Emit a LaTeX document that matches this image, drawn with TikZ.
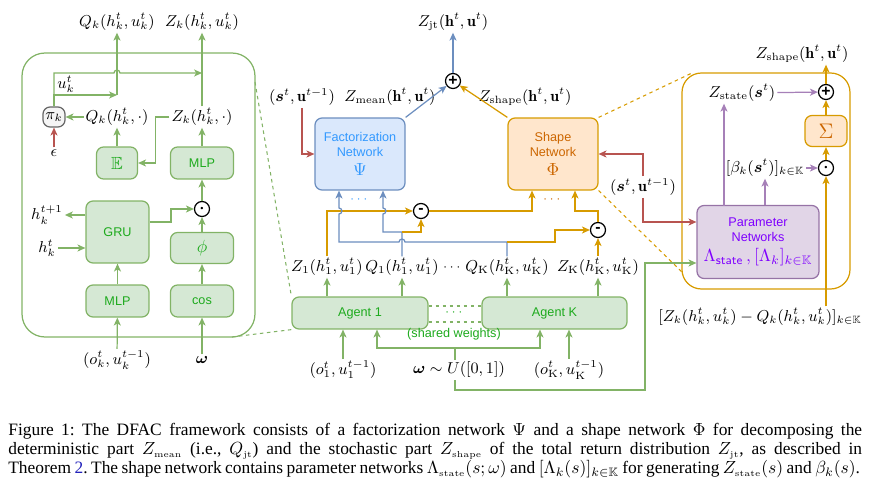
\documentclass[tikz,border=0pt]{standalone}
\usepackage{amsfonts, amssymb, amsmath}
\usepackage{fontspec}
\usepackage{xcolor}
\usepackage{tikz}
\usetikzlibrary{
  arrows.meta,
  calc
}
\newfontfamily\helv{Liberation Sans}
\newfontfamily\capfont{Liberation Serif}
\newcommand{\capsub}[1]{{\scriptscriptstyle\mathrm{#1}}}
\definecolor{greenline}{HTML}{82B366}
\definecolor{greenfill}{HTML}{D5E8D4}
\definecolor{greentext}{HTML}{1DAA1D}
\definecolor{blueline}{HTML}{6C8EBF}
\definecolor{bluefill}{HTML}{DAE8FC}
\definecolor{bluetext}{HTML}{3399FF}
\definecolor{orangeline}{HTML}{D79B00}
\definecolor{orangefill}{HTML}{FFE6CC}
\definecolor{orangetext}{HTML}{CC6600}
\definecolor{redline}{HTML}{B85450}
\definecolor{purpleline}{HTML}{A680B8}
\definecolor{purpleborder}{HTML}{9673A6}
\definecolor{purplefill}{HTML}{E1D5E7}
\definecolor{purpletext}{HTML}{7F00FF}
\definecolor{grayline}{HTML}{666666}
\definecolor{grayfill}{HTML}{F5F5F5}
\definecolor{linkblue}{HTML}{2222BB}
\tikzset{
  wire/.style={
    ->,
    >={Stealth[length=4.5pt,width=4pt,inset=1.2pt]},
    line width=0.7pt},
  zoomline/.style={
    dash pattern=on 2pt off 2pt,
    line width=0.6pt},
  block/.style={
    draw,
    rounded corners=4pt,
    line width=0.7pt,
    align=center,
    inner sep=1pt,
    font=\helv\fontsize{7.2}{8.6}\selectfont},
  gblock/.style={block, draw=greenline, fill=greenfill, text=greentext},
  bblock/.style={block, draw=blueline, fill=bluefill, text=bluetext},
  oblock/.style={block, draw=orangeline, fill=orangefill, text=orangetext},
  pblock/.style={block, draw=purpleborder, fill=purplefill, text=purpletext},
  op/.style={
    draw,
    circle,
    line width=0.7pt,
    minimum size=0.3cm,
    inner sep=0pt,
    font=\helv\bfseries\fontsize{9}{9}\selectfont},
  lbl/.style={inner sep=1pt, font=\small},
  dots/.style={inner sep=1pt, font=\scriptsize},
  panel/.style={draw, line width=0.7pt, rounded corners=13pt}
}
\begin{document}
\begin{tikzpicture}[x=0.02cm, y=-0.02cm]
	\useasboundingbox (0,0) rectangle (880,500);
	\node [panel, draw=greenline, minimum width=4.66cm, minimum height=5.68cm] (lpanel) at (138.5,195) {};
	\node [lbl] (qout) at (117,22) {$Q_k(h_k^t, u_k^t)$};
	\node [lbl] (zout) at (202,22) {$Z_k(h_k^t, u_k^t)$};
	\node [block, draw=grayline, fill=grayfill, text=black, minimum width=0.44cm, minimum height=0.4cm, font=\small] (pik) at (54,117) {$\pi_k$};
	\node [lbl] (qpart) at (117,117) {$Q_k(h_k^t, \cdot)$};
	\node [lbl] (zpart) at (202,117) {$Z_k(h_k^t, \cdot)$};
	\node [lbl] (ulab) at (66,84) {$u_k^t$};
	\node [lbl] (eps) at (54,153) {$\epsilon$};
	\node [gblock, minimum width=0.82cm, minimum height=0.64cm, font=\normalsize] (expect) at (117,163) {$\mathbb{E}$};
	\node [gblock, minimum width=1.26cm, minimum height=0.64cm] (mlpq) at (202,163) {MLP};
	\node [op] (prodk) at (202,209) {$\boldsymbol{\cdot}$};
	\node [gblock, minimum width=1.26cm, minimum height=1.24cm] (gru) at (117.5,232) {GRU};
	\node [gblock, minimum width=1.26cm, minimum height=0.62cm, font=\normalsize] (phi) at (202,248) {$\phi$};
	\node [gblock, minimum width=1.26cm, minimum height=0.64cm] (mlpo) at (117.5,301) {MLP};
	\node [gblock, minimum width=1.26cm, minimum height=0.64cm] (cosine) at (202,301) {cos};
	\node [lbl] (hnext) at (47,215) {$h_k^{t+1}$};
	\node [lbl] (hnow) at (47,248) {$h_k^t$};
	\node [lbl] (obsk) at (117,360) {$(o_k^t, u_k^{t-1})$};
	\node [lbl] (omk) at (202,360) {$\boldsymbol{\omega}$};
	\coordinate (selq) at (117,95);
	\coordinate (selz) at (202,73);
	\draw [wire, greenline] (qpart) to (pik);
	\draw [wire, redline] (eps) to (pik);
	\draw [wire, greenline] (pik.north) |- (selq);
	\draw [wire, greenline] (pik.north) -- (54,73) -- (114,73) arc [start angle=180, end angle=0, radius=1.7pt] -- (selz);
	\draw [wire, greenline] (selq) to (qout);
	\draw [wire, greenline] (zpart) to (zout);
	\draw [wire, greenline] (zpart.west) -- ++(-14,0) |- (expect.east);
	\draw [wire, greenline] (expect) to (qpart);
	\draw [wire, greenline] (mlpq) to (zpart);
	\draw [wire, greenline] (prodk) to (mlpq);
	\draw [wire, greenline] ($(gru.east)+(0,-10)$) -- (171,222) |- (prodk);
	\draw [wire, greenline] (phi) to (prodk);
	\draw [wire, greenline] (cosine) to (phi);
	\draw [wire, greenline] (mlpo) to (gru);
	\draw [wire, greenline] (obsk) to (mlpo);
	\draw [wire, greenline] (omk) to (cosine);
	\draw [wire, greenline] (gru.west |- hnext) to (hnext);
	\draw [wire, greenline] (hnow) to (gru.west |- hnow);
	\node [lbl] (zjt) at (453,22) {$Z_{\mathrm{jt}}(\mathbf{h}^t, \mathbf{u}^t)$};
	\node [op] (sumjt) at (453,81) {+};
	\node [lbl] (sfact) at (302,97) {$(\boldsymbol{s}^t, \mathbf{u}^{t-1})$};
	\node [lbl] (zmean) at (390,97) {$Z_{\mathrm{mean}}(\mathbf{h}^t, \mathbf{u}^t)$};
	\node [lbl] (zshape) at (525,97) {$Z_{\mathrm{shape}}(\mathbf{h}^t, \mathbf{u}^t)$};
	\node [bblock, minimum width=1.8cm, minimum height=1.44cm] (fact) at (360,154) {Factorization\\Network\\[2pt]{\normalsize$\Psi$}};
	\node [oblock, minimum width=1.8cm, minimum height=1.44cm] (shape) at (553,154) {Shape\\Network\\[2pt]{\normalsize$\Phi$}};
	\node [dots, text=bluetext] (dotsfact) at (360,200) {$\cdots$};
	\node [dots, text=orangetext] (dotsshape) at (553,200) {$\cdots$};
	\node [op] (diff1) at (421,211) {-};
	\node [op] (diffk) at (598,230) {-};
	\node [lbl] (z1) at (327,267) {$Z_1(h_1^t, u_1^t)$};
	\node [lbl] (q1) at (402,267) {$Q_1(h_1^t, u_1^t)$};
	\node [dots] (qdots) at (453,268) {$\cdots$};
	\node [lbl] (qk) at (507,267) {$Q_{\mathrm{K}}(h_{\mathrm{K}}^t, u_{\mathrm{K}}^t)$};
	\node [lbl] (zk) at (598,267) {$Z_{\mathrm{K}}(h_{\mathrm{K}}^t, u_{\mathrm{K}}^t)$};
	\node [gblock, minimum width=2.72cm, minimum height=0.64cm] (agent1) at (360,313) {Agent 1};
	\node [gblock, minimum width=2.9cm, minimum height=0.64cm] (agentk) at (554.5,313) {Agent K};
	\node [dots, text=greentext] (adots) at (455,313) {$\cdots$};
	\node [lbl, font=\helv\fontsize{7.2}{8.6}\selectfont, text=greentext] (shared) at (454,334) {(shared weights)};
	\node [lbl] (obs1) at (343,370) {$(o_1^t, u_1^{t-1})$};
	\node [lbl] (noise) at (459,370) {$\boldsymbol{\omega} \sim U([0,1])$};
	\node [lbl] (obsk2) at (569,370) {$(o_{\mathrm{K}}^t, u_{\mathrm{K}}^{t-1})$};
	\draw [wire, blueline] (fact.north east) to (sumjt);
	\draw [wire, orangeline] (shape.north west) to (sumjt);
	\draw [wire, blueline] (sumjt) to (sumjt |- zjt.south);
	\draw [wire, redline] (sfact) |- (fact.west);
	\coordinate (qkjoin) at (507,242);
	\coordinate (q1join) at (402,232);
	\draw [wire, orangeline] (z1) |- (diff1);
	\draw [wire, blueline] (qk) -- (qkjoin) -- (405,242) arc [start angle=0, end angle=180, radius=1.7pt] -- (339,242) -- (339,214) arc [start angle=-90, end angle=90, radius=1.7pt] -- ($(fact.south)+(-21,0)$);
	\draw [wire, orangeline] (qkjoin) -- (555,242) |- (diffk);
	\draw [wire, blueline] (q1) -- (q1join) -- (383,232) -- (383,214) arc [start angle=-90, end angle=90, radius=1.7pt] -- ($(fact.south)+(23,0)$);
	\draw [wire, orangeline] (q1join) -| (diff1);
	\draw [wire, orangeline] (diff1) -| ($(shape.south)+(-21,0)$);
	\draw [wire, orangeline] (diffk) |- (575,211) -- ($(shape.south)+(22,0)$);
	\draw [wire, orangeline] (zk) to (diffk);
	\draw [wire, greenline] (agent1.north -| z1) to (z1);
	\draw [wire, greenline] (agent1.north -| q1) to (q1);
	\draw [wire, greenline] (agentk.north -| qk) to (qk);
	\draw [wire, greenline] (agentk.north -| zk) to (zk);
	\draw [wire, greenline] (obs1) to (obs1 |- agent1.south);
	\draw [wire, greenline] (obsk2) to (obsk2 |- agentk.south);
	\node [panel, draw=orangeline, minimum width=3.36cm, minimum height=4.32cm, rounded corners=11pt] (rpanel) at (766,181) {};
	\node [lbl] (zshp) at (802,54) {$Z_{\mathrm{shape}}(\mathbf{h}^t, \mathbf{u}^t)$};
	\node [op] (sumshp) at (826,92) {+};
	\node [lbl] (zstate) at (742,93) {$Z_{\mathrm{state}}(\boldsymbol{s}^t)$};
	\node [oblock, minimum width=0.84cm, minimum height=0.62cm, font=\large] (sigma) at (826,131) {$\Sigma$};
	\node [op] (prodshp) at (826,168) {$\boldsymbol{\cdot}$};
	\node [lbl] (beta) at (765,168) {$[\beta_k(\boldsymbol{s}^t)]_{k \in \mathbb{K}}$};
	\node [pblock, minimum width=2.44cm, minimum height=1.46cm] (param) at (758,242) {Parameter\\Networks\\[3pt]{\normalsize$\Lambda_{\mathsf{state}}\,, [\Lambda_k]_{k \in \mathbb{K}}$}};
	\node [lbl] (zqdiff) at (760,317) {$[Z_k(h_k^t, u_k^t) - Q_k(h_k^t, u_k^t)]_{k \in \mathbb{K}}$};
	\node [lbl] (sshape) at (643,187) {$(\boldsymbol{s}^t, \mathbf{u}^{t-1})$};
	\coordinate (stateup) at (724,206);
	\coordinate (wsplit) at (455,348);
	\coordinate (wturn) at (645,263);
	\draw [wire, orangeline] (sumshp) to (sumshp |- zshp.south);
	\draw [wire, purpleline] (zstate) to (sumshp);
	\draw [wire, orangeline] (sigma) to (sumshp);
	\draw [wire, orangeline] (prodshp) to (sigma);
	\draw [wire, purpleline] (beta) to (prodshp);
	\draw [wire, orangeline] (prodshp |- zqdiff.north) to (prodshp);
	\draw [wire, purpleline] (param.north -| beta) to (beta);
	\draw [wire, purpleline] (stateup) to (stateup |- zstate.south);
	\draw [wire, redline] (sshape.north) |- (shape.east);
	\draw [wire, redline] (sshape.south) |- ($(param.west)+(0,-20)$);
	\draw [greenline, line width=0.7pt] (noise.north -| wsplit) -- (wsplit);
	\draw [wire, greenline] (wsplit) -| ($(agent1.south)+(17,0)$);
	\draw [wire, greenline] (wsplit) -| ($(agentk.south)+(-14.5,0)$);
	\draw [wire, greenline] (noise.south -| wsplit) |- (645,390) -- (wturn) -- (param.west |- wturn);
	\coordinate (lzoomtop) at (255,82);
	\coordinate (lzoombot) at (232,337);
	\coordinate (rzoomtop) at (692,73);
	\coordinate (rzoombot) at (682,272);
	\draw [zoomline, greenline] (lzoomtop) -- (agent1.north west);
	\draw [zoomline, greenline] (lzoombot) -- (agent1.south west);
	\draw [zoomline, greenline] ($(agent1.east)+(0,-7)$) -- ($(agentk.west)+(0,-7)$);
	\draw [zoomline, greenline] ($(agent1.east)+(0,9)$) -- ($(agentk.west)+(0,9)$);
	\draw [zoomline, orangeline] (shape.north east) -- (rzoomtop);
	\draw [zoomline, orangeline] (shape.south east) -- (rzoombot);
	\node [text width=17.08cm, align=justify, inner sep=0pt, anchor=north west, font=\capfont\fontsize{9.9}{10.8}\selectfont] (caption) at (8,423) {\frenchspacing\spaceskip=0.2em plus 0.3em minus 0.08em\relax Figure 1: The DFAC framework consists of a factorization network $\Psi$ and a shape network $\Phi$ for decomposing the\linebreak deterministic part $Z_\capsub{mean}$ (i.e., $Q_\capsub{jt}$) and the stochastic part $Z_\capsub{shape}$ of the total return distribution $Z_\capsub{jt}$, as described in\linebreak Theorem \textcolor{linkblue}{2}. The shape network contains parameter networks $\Lambda_\capsub{state}(s;\omega)$ and $[\Lambda_k(s)]_{k \in \mathbb{K}}$ for generating $Z_\capsub{state}(s)$ and $\beta_k(s)$.};
\end{tikzpicture}
\end{document}
